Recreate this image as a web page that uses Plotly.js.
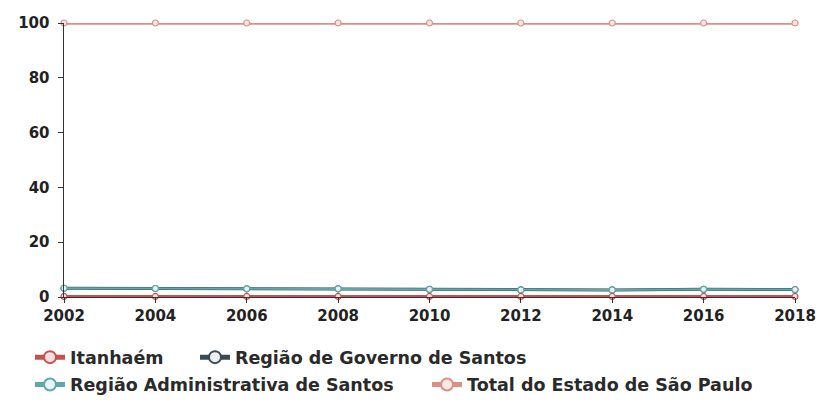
<!DOCTYPE html>
<html><head><meta charset="utf-8">
<script src="https://cdn.plot.ly/plotly-3.0.1.min.js"></script>
<style>html,body{margin:0;padding:0;background:#fff;}#chart{width:819px;height:406px;}</style>
</head><body><div id="chart"></div>
<script>
const years = [2002, 2004, 2006, 2008, 2010, 2012, 2014, 2016, 2018];
const itanhaem = [0.2, 0.2, 0.2, 0.2, 0.2, 0.2, 0.2, 0.2, 0.2];
const regiaoGoverno = [3.2, 3.1, 3.0, 3.0, 2.8, 2.6, 2.6, 2.8, 2.7];
const regiaoAdministrativa = [3.2, 3.1, 3.0, 3.0, 2.8, 2.6, 2.6, 2.8, 2.7];
const totalEstado = [100, 100, 100, 100, 100, 100, 100, 100, 100];
const names = ["Itanhaém", "Região de Governo de Santos", "Região Administrativa de Santos", "Total do Estado de São Paulo"];

function tr(y, name, color, fill, width, legend) {
  return {x: years, y: y, name: name, type: 'scatter', mode: 'lines+markers',
    line: {color: color, width: width},
    marker: {symbol: 'circle', size: 6, color: fill, line: {color: color, width: 1.2}},
    cliponaxis: false, legend: legend};
}
const data = [
  tr(totalEstado, names[3], '#dc8f87', '#fbe9e4', 3.5, 'legend4'),
  tr(regiaoGoverno, names[1], '#3c4a55', '#eef2f5', 3, 'legend2'),
  tr(regiaoAdministrativa, names[2], '#5fa8aa', '#e6f5f5', 2, 'legend3'),
  tr(itanhaem, names[0], '#c9504f', '#f7dede', 3, 'legend')
];
const tickFont = {family: 'DejaVu Sans, Verdana, sans-serif', size: 15, color: '#222', weight: 'bold'};
const legFont = {family: 'DejaVu Sans, Verdana, sans-serif', size: 17.5, color: '#2a2a2a', weight: 'bold'};
function leg(x, y) {
  return {orientation: 'h', x: x, y: y, xanchor: 'left', yanchor: 'middle',
    font: legFont, itemsizing: 'constant', bgcolor: 'rgba(0,0,0,0)'};
}
const layout = {
  width: 819, height: 406,
  margin: {l: 64, r: 24, t: 23, b: 109, autoexpand: false},
  paper_bgcolor: '#fff', plot_bgcolor: '#fff',
  showlegend: true,
  font: {family: 'DejaVu Sans, Verdana, sans-serif', size: 15, color: '#222'},
  xaxis: {range: [2002, 2018], tickvals: years, ticktext: years.map(String),
    showgrid: false, zeroline: false, showline: true, linecolor: '#333', linewidth: 1,
    ticks: 'outside', ticklen: 5, tickcolor: '#333', tickfont: tickFont},
  yaxis: {range: [0, 100], tickvals: [0, 20, 40, 60, 80, 100],
    showgrid: false, zeroline: false, showline: true, linecolor: '#333', linewidth: 1.5,
    ticks: 'outside', ticklen: 5, tickcolor: '#333', tickfont: tickFont, ticklabelstandoff: 5},
  legend: leg(-0.0465, -0.22),
  legend2: leg(0.1792, -0.22),
  legend3: leg(-0.0465, -0.32),
  legend4: leg(0.4966, -0.32)
};
Plotly.newPlot('chart', data, layout, {displayModeBar: false, staticPlot: true});
</script></body></html>
